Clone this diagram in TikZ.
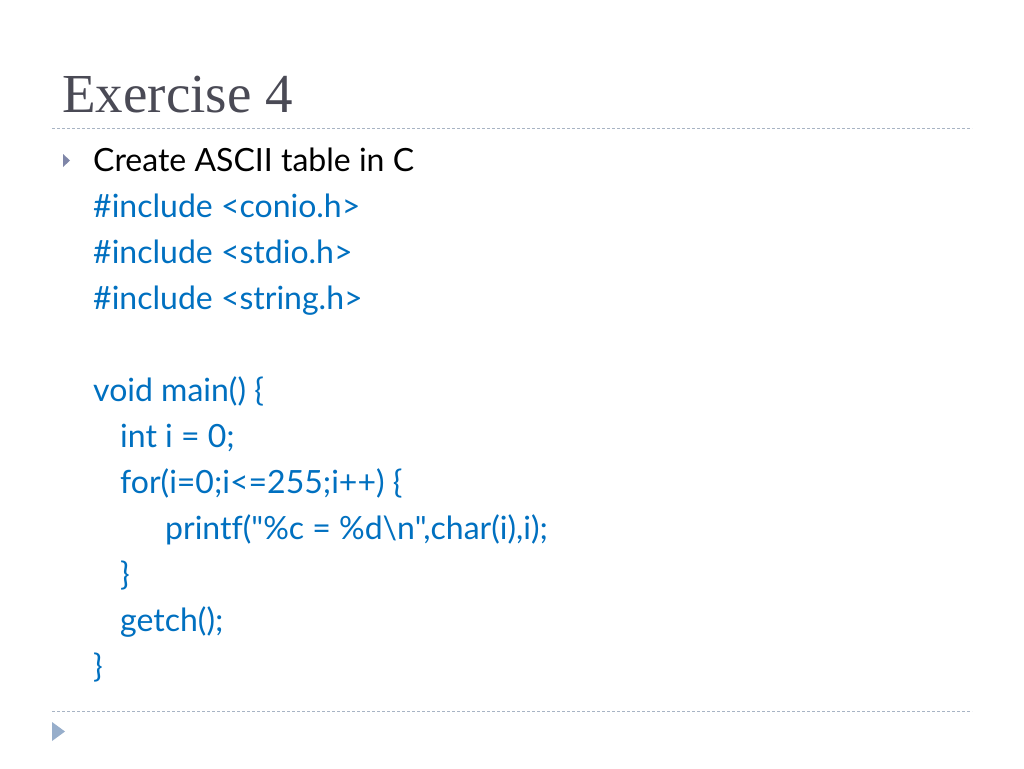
\documentclass[tikz,border=0pt]{standalone}
\usepackage{fontspec}
\setmainfont{Lato}[Ligatures={NoCommon}]
\newfontfamily\codefont{Lato}[Ligatures={NoCommon,TeXOff}]
\newfontfamily\titlefont{Liberation Serif}
\definecolor{codeblue}{HTML}{0070C0}
\definecolor{titlegray}{HTML}{4A4A55}
\definecolor{rulegray}{HTML}{A8B4C4}
\definecolor{bulletcol}{HTML}{7F86A8}
\definecolor{tricol}{HTML}{97AECB}
\begin{document}
\begin{tikzpicture}[x=1pt,y=-1pt,
  codeline/.style={anchor=base west,inner sep=0pt,text=codeblue,font=\codefont\fontsize{32}{32}\selectfont},
  rule/.style={draw=rulegray,line width=1pt,dash pattern=on 3pt off 2pt}]
\useasboundingbox[fill=white] (0,0) rectangle (1024,768);
\node[anchor=base west,inner sep=0pt,text=titlegray,font=\titlefont\fontsize{55}{55}\selectfont] (title) at (62,112) {Exercise 4};
\coordinate (r1a) at (52,128);
\coordinate (r1b) at (972,128);
\draw[rule] (r1a) -- (r1b);
\coordinate (r2a) at (52,711);
\coordinate (r2b) at (972,711);
\draw[rule] (r2a) -- (r2b);
\fill[bulletcol] (63,154) -- (70,160.5) -- (63,167) -- cycle;
\fill[tricol] (52,722) -- (65,731.5) -- (52,741) -- cycle;
\node[anchor=base west,inner sep=0pt,font=\fontsize{32}{32}\selectfont] (bul) at (93,171) {Create ASCII table in C};
\node[codeline] (l1) at (93,217) {\#include <conio.h>};
\node[codeline] (l2) at (93,263) {\#include <stdio.h>};
\node[codeline] (l3) at (93,309) {\#include <string.h>};
\node[codeline] (l4) at (93,401) {void main() \{};
\node[codeline] (l5) at (120,447) {int i = 0;};
\node[codeline] (l6) at (120,493) {for(i=0;i<=255;i++) \{};
\node[codeline] (l7) at (165,539) {printf("\%c = \%d\textbackslash n",char(i),i);};
\node[codeline] (l8) at (120,585) {\}};
\node[codeline] (l9) at (120,631) {getch();};
\node[codeline] (l10) at (93,677) {\}};
\end{tikzpicture}
\end{document}
